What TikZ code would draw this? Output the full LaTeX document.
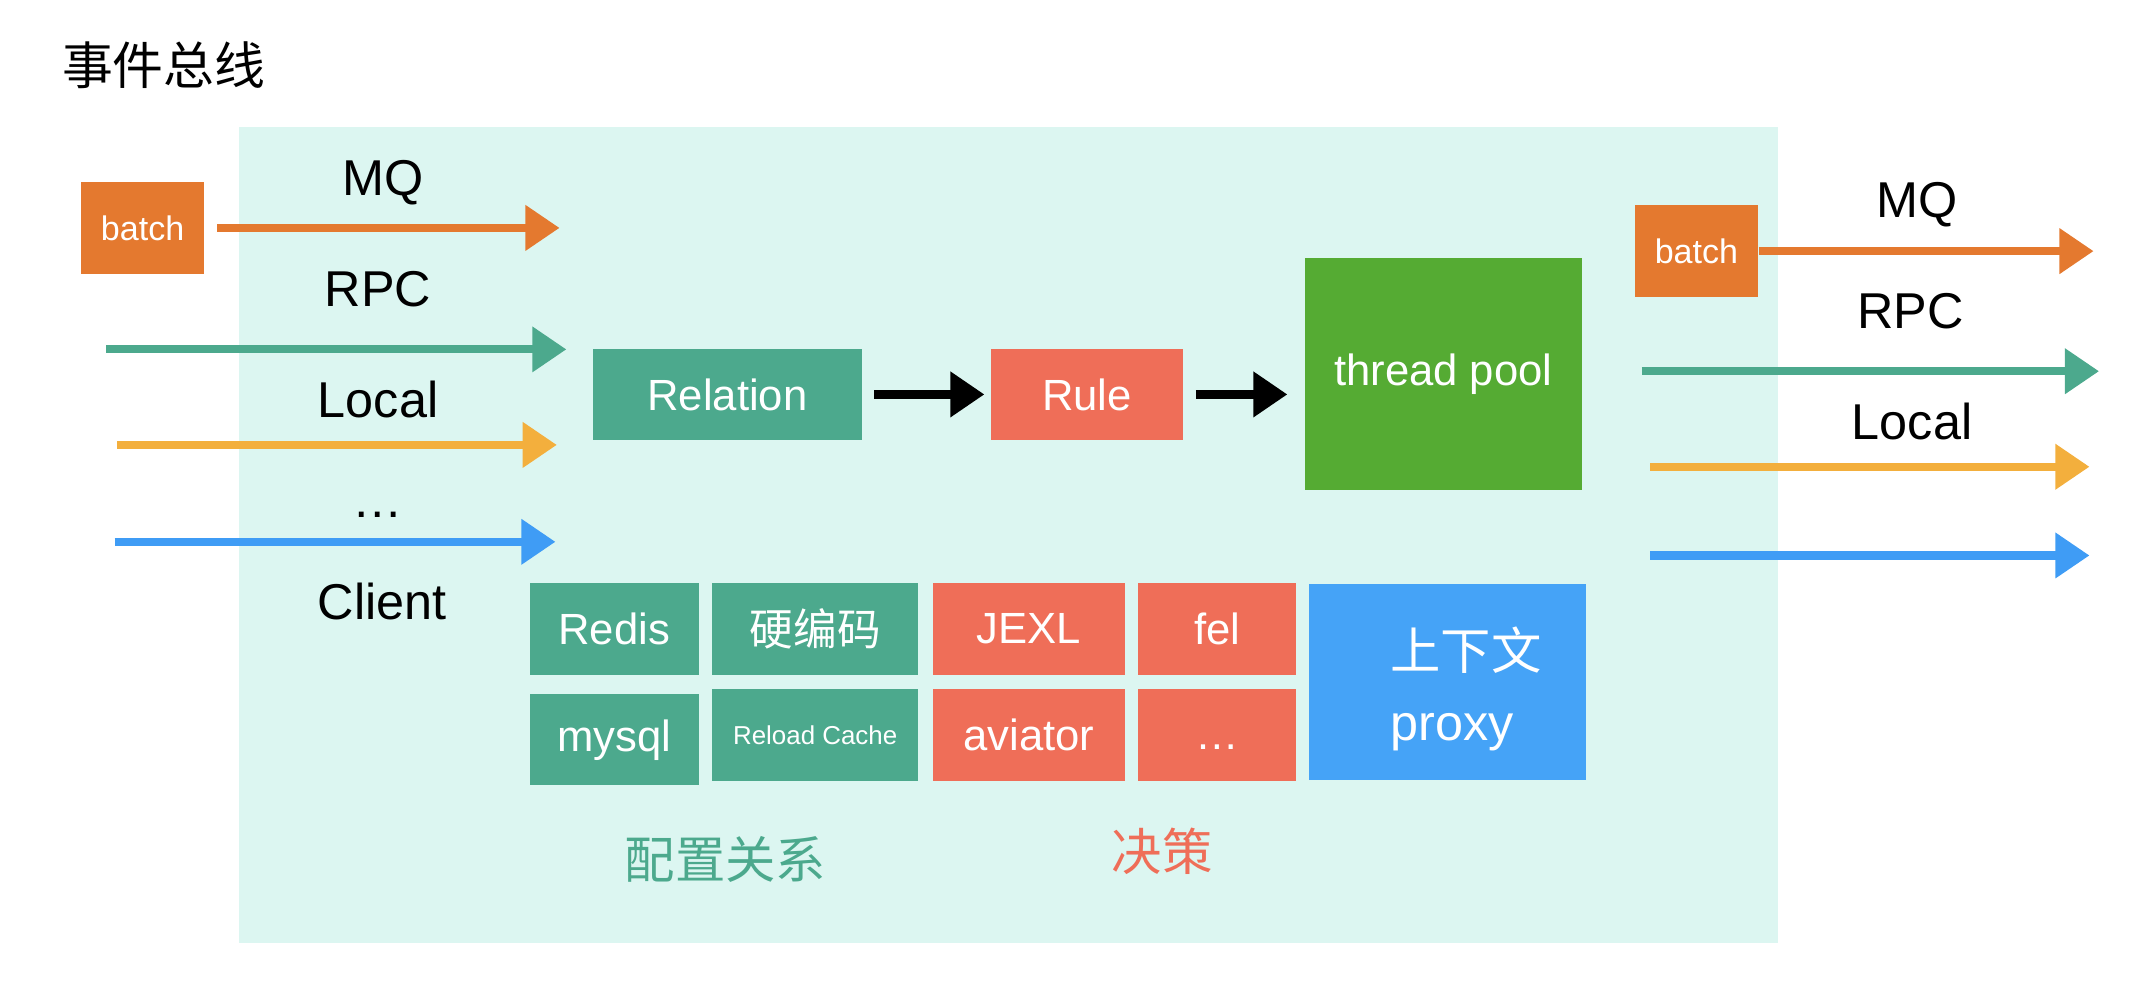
\documentclass[tikz,border=0pt]{standalone}
\usepackage{fontspec}
\setmainfont{Liberation Sans}
\newfontfamily\cjk{Noto Sans CJK SC}
\usetikzlibrary{arrows.meta}
\definecolor{busbg}{HTML}{DCF6F1}
\definecolor{batchor}{HTML}{E4792F}
\definecolor{cfgteal}{HTML}{4CA98D}
\definecolor{rulered}{HTML}{EF6E58}
\definecolor{poolgreen}{HTML}{55AB33}
\definecolor{ctxblue}{HTML}{45A3F7}
\definecolor{localyel}{HTML}{F3AF3D}
\definecolor{clientblue}{HTML}{3F9CF5}
\begin{document}
\begin{tikzpicture}[x=0.1mm,y=-0.1mm,
	box/.style={inner sep=0pt,text=white,font=\fontsize{9.1}{11}\selectfont},
	lbl/.style={inner sep=0pt,font=\fontsize{10.5}{12}\selectfont},
	flow/.style={line width=0.6mm,-{Triangle[length=2.5mm,width=3.2mm]}}]
	\useasboundingbox (0,0) rectangle (1568,724);
	\fill[busbg] (175,93) rectangle (1303,691);
	\node[inner sep=0pt,font=\cjk\fontsize{10.6}{12}\selectfont] (title) at (120,48) {事件总线};
	% inputs
	\node[box,fill=batchor,minimum width=9mm,minimum height=6.7mm,font=\fontsize{7.1}{9}\selectfont] (batchL) at (104.5,167) {batch};
	\node[lbl] (mqL) at (281,134) {MQ};
	\node[lbl] (rpcL) at (277,212) {RPC};
	\node[lbl] (localL) at (277,293) {Local};
	\node[lbl] (moreL) at (277,379) {\raisebox{0pt}[0pt][0pt]{\dots}};
	\node[lbl] (clientL) at (280,441) {Client};
	\coordinate (mqE) at (410,167);
	\coordinate (rpcS) at (78,256);
	\coordinate (rpcE) at (415,256);
	\coordinate (localS) at (86,326);
	\coordinate (localE) at (408,326);
	\coordinate (clientS) at (84,397);
	\coordinate (clientE) at (407,397);
	\draw[flow,draw=batchor,shorten <=0.9mm] (batchL) -- (mqE);
	\draw[flow,draw=cfgteal] (rpcS) -- (rpcE);
	\draw[flow,draw=localyel] (localS) -- (localE);
	\draw[flow,draw=clientblue] (clientS) -- (clientE);
	% pipeline
	\node[box,fill=cfgteal,minimum width=19.7mm,minimum height=6.7mm] (rel) at (533,289) {Relation};
	\node[box,fill=rulered,minimum width=14.1mm,minimum height=6.7mm] (rule) at (796.5,289) {Rule};
	\node[box,fill=poolgreen,minimum width=20.3mm,minimum height=17mm] (pool) at (1057.5,274) {thread pool};
	\draw[flow,draw=black,line width=0.65mm,shorten <=0.85mm,shorten >=0.4mm] (rel) -- (rule);
	\draw[flow,draw=black,line width=0.65mm,shorten <=0.85mm,shorten >=1.2mm] (rule) -- (rule -| pool.west);
	% config and decision
	\node[box,fill=cfgteal,minimum width=12.4mm,minimum height=6.7mm] (redis) at (450,461) {Redis};
	\node[box,fill=cfgteal,minimum width=15.1mm,minimum height=6.7mm,font=\cjk\fontsize{9.1}{11}\selectfont] (hard) at (597.3,461) {硬编码};
	\node[box,fill=cfgteal,minimum width=12.4mm,minimum height=6.7mm] (mysql) at (450,542) {mysql};
	\node[box,fill=cfgteal,minimum width=15.1mm,minimum height=6.7mm,font=\fontsize{5.4}{7}\selectfont] (reload) at (597.3,538.4) {Reload Cache};
	\node[box,fill=rulered,minimum width=14.05mm,minimum height=6.7mm] (jexl) at (753.8,461) {JEXL};
	\node[box,fill=rulered,minimum width=11.6mm,minimum height=6.7mm] (fel) at (891.9,461) {fel};
	\node[box,fill=rulered,minimum width=14.05mm,minimum height=6.7mm] (aviator) at (753.8,538.4) {aviator};
	\node[box,fill=rulered,minimum width=11.6mm,minimum height=6.7mm] (etc) at (891.9,538.4) {\raisebox{-1.1mm}[0pt][0pt]{\dots}};
	\node[box,fill=ctxblue,minimum width=20.3mm,minimum height=14.3mm] (ctx) at (1060.5,499.7) {};
	\node[box,anchor=west,align=left,font=\fontsize{10.5}{14.8}\selectfont] (ctxtxt) at (1018,505) {{\cjk 上下文}\\proxy};
	\node[inner sep=0pt,text=cfgteal,font=\cjk\fontsize{10.5}{12}\selectfont] (cfgL) at (531.5,630) {配置关系};
	\node[inner sep=0pt,text=rulered,font=\cjk\fontsize{10.5}{12}\selectfont] (decL) at (851.5,624) {决策};
	% outputs
	\node[box,fill=batchor,minimum width=9mm,minimum height=6.7mm,font=\fontsize{7.1}{9}\selectfont] (batchR) at (1243,184) {batch};
	\node[lbl] (mqR) at (1405,150) {MQ};
	\node[lbl] (rpcR) at (1400,228) {RPC};
	\node[lbl] (localR) at (1401,309) {Local};
	\coordinate (mqRE) at (1534,184);
	\coordinate (rpcRS) at (1203,272);
	\coordinate (rpcRE) at (1538,272);
	\coordinate (localRS) at (1209,342);
	\coordinate (localRE) at (1531,342);
	\coordinate (clientRS) at (1209,407);
	\coordinate (clientRE) at (1531,407);
	\draw[flow,draw=batchor] (batchR) -- (mqRE);
	\draw[flow,draw=cfgteal] (rpcRS) -- (rpcRE);
	\draw[flow,draw=localyel] (localRS) -- (localRE);
	\draw[flow,draw=clientblue] (clientRS) -- (clientRE);
\end{tikzpicture}
\end{document}
